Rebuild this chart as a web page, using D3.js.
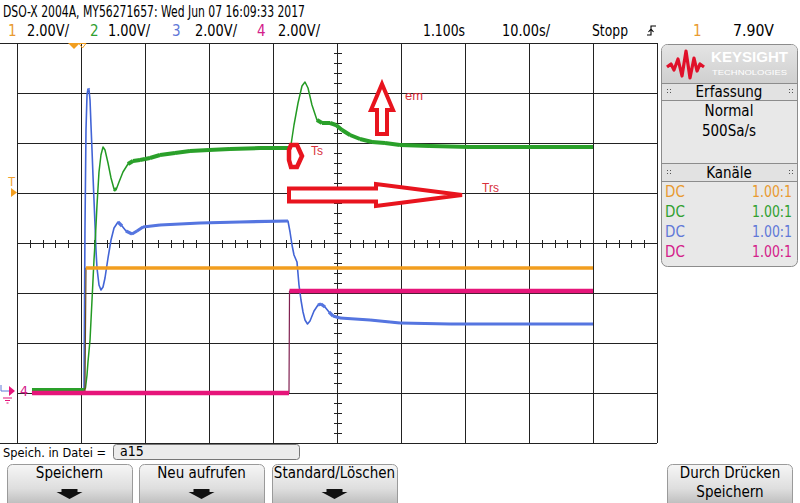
<!DOCTYPE html>
<html><head><meta charset="utf-8">
<script src="https://cdn.jsdelivr.net/npm/d3@7"></script>
<style>body{margin:0;background:#fff;overflow:hidden}svg{display:block}</style>
</head><body>
<svg id="c" width="800" height="503"></svg>
<script>
// ---------------- DATA ----------------
const headerText = "DSO-X 2004A, MY56271657: Wed Jun 07 16:09:33 2017";
const channelNames = ["1", "2", "3", "4"];
const channelScaleLabels = ["2.00V/", "1.00V/", "2.00V/", "2.00V/"];
const channelVoltsPerDiv = [2, 1, 2, 2];
const channelGroundDiv = [-2.96, -2.96, -2.96, -2.96];
const timeRef = 1.1;          // s at screen centre
const timePerDiv = 10;        // s/div
const timeLabels = ["1.100s", "10.00s/", "Stopp"];
const triggerLevel = "7.90V";
const acqLabels = ["Erfassung", "Normal", "500Sa/s"];
const channelCoupling = ["DC", "DC", "DC", "DC"];
const channelProbe = ["1.00:1", "1.00:1", "1.00:1", "1.00:1"];
const buttonLabels = ["Speichern", "Neu aufrufen", "Standard/Löschen"];
const fileName = "a15";

// Channel 1 (orange)
const ch1Time  = [-46.56, -38.28, -38.12, 41.10];
const ch1Volts = [-0.08, -0.08, 4.92, 4.92];
// Channel 2 (green)
const ch2Time  = [-46.56,-38.43,-38.20,-37.96,-37.81,-37.49,-37.18,-36.87,-36.63,-36.40,-36.09,-35.78,-35.46,-35.15,-34.68,-34.21,-33.74,-33.43,-32.96,-32.34,-31.56,-30.78,-29.68,-28.90,-28.12,-26.56,-24.21,-21.87,-18.90,-15.62,-10.93,-6.40,-6.09,-5.62,-4.99,-4.37,-3.90,-3.43,-2.81,-2.03,-1.24,0.01,0.94,1.88,3.13,4.69,6.57,8.60,10.94,15.63,21.88,31.26,41.10];
const ch2Volts = [0.02,0.02,0.06,0.32,0.58,1.02,1.82,2.62,3.12,3.72,4.38,4.72,4.88,4.82,4.56,4.26,4.04,4.02,4.18,4.38,4.54,4.60,4.62,4.64,4.66,4.72,4.76,4.80,4.82,4.84,4.86,4.86,4.92,5.32,5.76,6.10,6.18,6.06,5.72,5.42,5.36,5.36,5.32,5.22,5.12,5.04,4.98,4.96,4.92,4.90,4.88,4.88,4.88];
// Channel 3 (blue)
const ch3Time  = [-46.56,-38.43,-38.28,-38.12,-37.96,-37.81,-37.65,-37.49,-37.34,-37.18,-37.03,-36.87,-36.71,-36.56,-36.40,-36.09,-35.78,-35.46,-35.15,-34.68,-34.21,-33.74,-33.12,-32.49,-31.87,-30.93,-30.15,-29.21,-26.56,-20.31,-14.06,-6.56,-6.24,-5.93,-5.62,-5.15,-4.84,-4.53,-4.21,-3.90,-3.51,-3.12,-2.49,-1.87,-1.40,-0.78,-0.15,0.48,1.57,6.26,9.38,10.94,18.76,41.10];
const ch3Volts = [-0.04,-0.04,6.44,10.44,11.84,12.08,12.04,11.64,10.64,9.64,8.64,7.64,6.64,5.64,4.92,4.24,4.04,4.16,4.52,5.32,6.04,6.52,6.76,6.60,6.40,6.28,6.40,6.56,6.64,6.72,6.76,6.80,6.36,5.84,5.44,5.16,4.24,3.64,3.16,2.84,2.68,2.80,3.20,3.44,3.48,3.36,3.16,3.00,2.92,2.84,2.76,2.72,2.68,2.68];
// Channel 4 (magenta)
const ch4Time  = [-46.56, -6.40, -6.32, 41.10];
const ch4Volts = [-0.08, -0.08, 4.00, 4.00];

// ---------------- STYLE ----------------
const FONT = '"Liberation Sans Narrow","DejaVu Sans Condensed","Roboto Condensed","Liberation Sans",sans-serif';
const AFONT = '"Liberation Sans",Arial,sans-serif';
const chColors = ["#f29e1f", "#2aa02a", "#5575e0", "#e6157a"];
const chTextColors = ["#e99a30", "#30a030", "#6078d8", "#d4208a"];
const RED = "#e8141e", RED_T = "#d8303c";

const svg = d3.select("#c");
const defs = svg.append("defs");
const g1 = defs.append("linearGradient").attr("id","btn").attr("x1",0).attr("y1",0).attr("x2",0).attr("y2",1);
g1.append("stop").attr("offset","0%").attr("stop-color","#f6f6f6");
g1.append("stop").attr("offset","55%").attr("stop-color","#dedede");
g1.append("stop").attr("offset","100%").attr("stop-color","#b4b4b4");
const g2 = defs.append("linearGradient").attr("id","logo").attr("x1",0).attr("y1",0).attr("x2",0).attr("y2",1);
g2.append("stop").attr("offset","0%").attr("stop-color","#e4e4e4");
g2.append("stop").attr("offset","100%").attr("stop-color","#cfcfcf");

function txt(x, y, s, o = {}) {
  const t = svg.append("text").attr("x", x).attr("y", y).text(s)
    .attr("font-family", o.family || FONT).attr("font-size", o.size || 15)
    .attr("fill", o.fill || "#000").attr("text-anchor", o.anchor || "start");
  if (o.weight) t.attr("font-weight", o.weight);
  if (o.len) t.attr("textLength", o.len).attr("lengthAdjust", "spacingAndGlyphs");
  return t;
}

// ---------------- SCALES ----------------
const PL = 17, PR = 657, PT = 43, PB = 443;
const x = d3.scaleLinear().domain([timeRef - 5 * timePerDiv, timeRef + 5 * timePerDiv]).range([PL, PR]);
const yDiv = d3.scaleLinear().domain([-4, 4]).range([PB, PT]);
const yCh = (c, v) => yDiv(channelGroundDiv[c] + v / channelVoltsPerDiv[c]);

// ---------------- HEADER ----------------
txt(3, 17, headerText, { len: 302 });
const chLabelX = [8, 90, 172, 257], chScaleX = [27, 108, 195, 278];
channelNames.forEach((n, i) => {
  txt(chLabelX[i], 36, n, { fill: chTextColors[i] });
  txt(chScaleX[i], 36, channelScaleLabels[i], { len: 42 });
});
txt(423, 36, timeLabels[0], { len: 42 });
txt(502, 36, timeLabels[1], { len: 48 });
txt(592, 36, timeLabels[2], { len: 36 });
svg.append("path").attr("d", "M647,35 h4 v-9 h5 M648.5,32 l2.5,-3 l2.5,3").attr("fill", "none").attr("stroke", "#000").attr("stroke-width", 1.1);
txt(693, 36, "1", { fill: chTextColors[0] });
txt(733, 36, triggerLevel, { len: 41 });

// ---------------- PLOT ----------------
const plot = svg.append("g").attr("shape-rendering", "crispEdges");
plot.append("rect").attr("x", PL).attr("y", PT).attr("width", PR - PL).attr("height", PB - PT).attr("fill", "#fff");
const vDivs = d3.range(0, 11), hDivs = d3.range(-4, 5);
plot.selectAll(".vg").data(vDivs).join("line")
  .attr("x1", d => Math.round(x(timeRef + (d - 5) * timePerDiv)) + 0.5).attr("x2", d => Math.round(x(timeRef + (d - 5) * timePerDiv)) + 0.5)
  .attr("y1", PT).attr("y2", PB).attr("stroke", "#222");
plot.selectAll(".hg").data(hDivs).join("line")
  .attr("x1", d => (d === 4 || d === -4) ? 0 : PL).attr("x2", PR)
  .attr("y1", d => Math.round(yDiv(d)) + 0.5).attr("y2", d => Math.round(yDiv(d)) + 0.5).attr("stroke", "#222");
const xMinor = d3.range(-5, 5.001, 0.2), yMinor = d3.range(-4, 4.001, 0.2);
const cy = Math.round(yDiv(0)) + 0.5, cx = Math.round(x(timeRef)) + 0.5;
plot.selectAll(".xt").data(xMinor).join("line")
  .attr("x1", d => Math.round(x(timeRef + d * timePerDiv)) + 0.5).attr("x2", d => Math.round(x(timeRef + d * timePerDiv)) + 0.5)
  .attr("y1", cy - 4).attr("y2", cy + 4).attr("stroke", "#222");
plot.selectAll(".yt").data(yMinor).join("line")
  .attr("y1", d => Math.round(yDiv(d)) + 0.5).attr("y2", d => Math.round(yDiv(d)) + 0.5)
  .attr("x1", cx - 4).attr("x2", cx + 4).attr("stroke", "#222");

// ---------------- TRACES ----------------
const traces = [
  { c: 2, t: ch3Time, v: ch3Volts, thin: 1.6, thick: 3.2, thinColor: "#4264d6" },
  { c: 1, t: ch2Time, v: ch2Volts, thin: 1.5, thick: 4, thinColor: "#239a23" },
  { c: 0, t: ch1Time, v: ch1Volts, thin: 1.2, thick: 3.6, thinColor: "#6a4a20" },
  { c: 3, t: ch4Time, v: ch4Volts, thin: 1.2, thick: 4.6, thinColor: "#802050" },
];
const tg = svg.append("g");
traces.forEach(tr => {
  const pts = tr.t.map((t, i) => [x(t), yCh(tr.c, tr.v[i])]);
  tg.append("path").attr("d", d3.line()(pts)).attr("fill", "none")
    .attr("stroke", tr.thinColor).attr("stroke-width", tr.thin).attr("stroke-linejoin", "round");
  const segs = [];
  for (let i = 1; i < pts.length; i++) {
    const dx = Math.abs(pts[i][0] - pts[i - 1][0]), dy = Math.abs(pts[i][1] - pts[i - 1][1]);
    if (dy <= 1.0 * dx) segs.push([pts[i - 1], pts[i]]);
  }
  tg.selectAll(null).data(segs).join("line")
    .attr("x1", d => d[0][0]).attr("y1", d => d[0][1]).attr("x2", d => d[1][0]).attr("y2", d => d[1][1])
    .attr("stroke", chColors[tr.c]).attr("stroke-width", tr.thick).attr("stroke-linecap", "butt");
});

// ---------------- MARKERS ----------------
svg.append("path").attr("d", "M68,43 L80,43 L74,49 Z").attr("fill", "#f29e1f");
svg.append("path").attr("d", "M79,43.5 L86,43.5 L82.5,48 Z").attr("fill", "none").attr("stroke", "#f29e1f").attr("stroke-width", 1);
txt(8, 186, "T", { fill: "#f0a030", size: 12, family: AFONT });
svg.append("path").attr("d", "M11,188 L17,192.5 L11,197 Z").attr("fill", "#f29e1f");
const gy = yDiv(channelGroundDiv[3]);
svg.append("path").attr("d", `M1,${gy - 6} v6 h8`).attr("fill", "none").attr("stroke", "#6078d8").attr("stroke-width", 1);
svg.append("path").attr("d", `M9,${gy - 5} L15,${gy} L9,${gy + 5} Z`).attr("fill", "#e6157a");
svg.append("path").attr("d", `M3,${gy + 7} h9 M5,${gy + 9.5} h5 M6.5,${gy + 12} h2`).attr("stroke", "#e6157a").attr("stroke-width", 1.2);
txt(20, gy + 5, "4", { fill: "#d4208a", size: 14 });

// ---------------- ANNOTATIONS ----------------
svg.append("path").attr("d", "M382,84 L393,110 L387,110 L387,134 L377,134 L377,110 L371,110 Z")
  .attr("fill", "#fff").attr("stroke", RED).attr("stroke-width", 4).attr("stroke-linejoin", "miter");
svg.append("path").attr("d", "M291,145 L297,145 L302,156 L297,167 L291,167 L289,160 L289,150 Z")
  .attr("fill", "#fff").attr("stroke", RED).attr("stroke-width", 4.5);
svg.append("path").attr("d", "M289,188.5 L376,188.5 L376,184 L462,195 L376,206 L376,201.5 L289,201.5 Z")
  .attr("fill", "#fff").attr("stroke", RED).attr("stroke-width", 4);
txt(405, 100, "em", { fill: RED_T, size: 13, family: AFONT });
txt(311, 155, "Ts", { fill: RED_T, size: 12, family: AFONT });
txt(482, 192, "Trs", { fill: RED_T, size: 12, family: AFONT });

// ---------------- RIGHT PANEL ----------------
const pn = svg.append("g");
pn.append("rect").attr("x", 661.5).attr("y", 44.5).attr("width", 136).attr("height", 222).attr("rx", 6)
  .attr("fill", "#e8e8e8").attr("stroke", "#8c8c8c");
pn.append("path").attr("d", "M662,83 L662,50.5 Q662,45 667.5,45 L791.5,45 Q797,45 797,50.5 L797,83 Z").attr("fill", "url(#logo)");
pn.append("path").attr("d", "M667,67 L671,64 L674,70 L678,59 L682,76 L686,51 L690,78 L694,58 L697,71 L700,64 L704,67")
  .attr("fill", "none").attr("stroke", "#e0102a").attr("stroke-width", 3.2).attr("stroke-linejoin", "round");
txt(711, 62, "KEYSIGHT", { fill: "#fff", size: 15, weight: "bold", family: AFONT, len: 77 });
txt(712, 75, "TECHNOLOGIES", { fill: "#fff", size: 8, family: AFONT, len: 75 });
[83.5, 100.5, 163.5, 181.5].forEach(yy => pn.append("line").attr("x1", 662).attr("x2", 797).attr("y1", yy).attr("y2", yy).attr("stroke", "#8c8c8c"));
pn.append("rect").attr("x", 662).attr("y", 84).attr("width", 135).attr("height", 16).attr("fill", "#e2e2e2");
pn.append("rect").attr("x", 662).attr("y", 164).attr("width", 135).attr("height", 17).attr("fill", "#e2e2e2");
function dots(xx, yy) {
  [[0, 0], [3, 0], [0, 3], [3, 3]].forEach(p => pn.append("rect").attr("x", xx + p[0]).attr("y", yy + p[1]).attr("width", 1).attr("height", 1).attr("fill", "#555"));
}
dots(667, 89); dots(789, 89); dots(667, 170); dots(789, 170);
txt(729, 97, acqLabels[0], { anchor: "middle", size: 15 });
txt(729, 116, acqLabels[1], { anchor: "middle", size: 15 });
txt(729, 136, acqLabels[2], { anchor: "middle", size: 15 });
txt(729, 178, "Kanäle", { anchor: "middle", size: 15 });
channelCoupling.forEach((c, i) => {
  txt(665, 197 + 20 * i, c, { fill: chTextColors[i], size: 15 });
  txt(792, 197 + 20 * i, channelProbe[i], { fill: chTextColors[i], size: 15, anchor: "end", len: 40 });
});

// ---------------- BOTTOM ----------------
txt(3, 457, "Speich. in Datei =", { size: 13, len: 103 });
svg.append("rect").attr("x", 113.5).attr("y", 444.5).attr("width", 186).attr("height", 15).attr("rx", 3)
  .attr("fill", "#ececec").attr("stroke", "#777");
txt(120, 456, fileName, { size: 14 });
const btnX = [7, 139, 272];
buttonLabels.forEach((b, i) => {
  const bx = btnX[i], w = 125, c = bx + w / 2;
  svg.append("rect").attr("x", bx + 0.5).attr("y", 464.5).attr("width", w).attr("height", 44).attr("rx", 5)
    .attr("fill", "url(#btn)").attr("stroke", "#9a9a9a");
  txt(c, 478, b, { anchor: "middle", size: 15 });
  svg.append("path").attr("d", `M${c - 8},489 h16 v3 h5 L${c},499 L${c - 13},492 h5 Z`).attr("fill", "#111");
});
svg.append("rect").attr("x", 667.5).attr("y", 464.5).attr("width", 125).attr("height", 44).attr("rx", 5)
  .attr("fill", "url(#btn)").attr("stroke", "#9a9a9a");
txt(730, 478, "Durch Drücken", { anchor: "middle", size: 15 });
txt(730, 497, "Speichern", { anchor: "middle", size: 15 });
</script>
</body></html>
